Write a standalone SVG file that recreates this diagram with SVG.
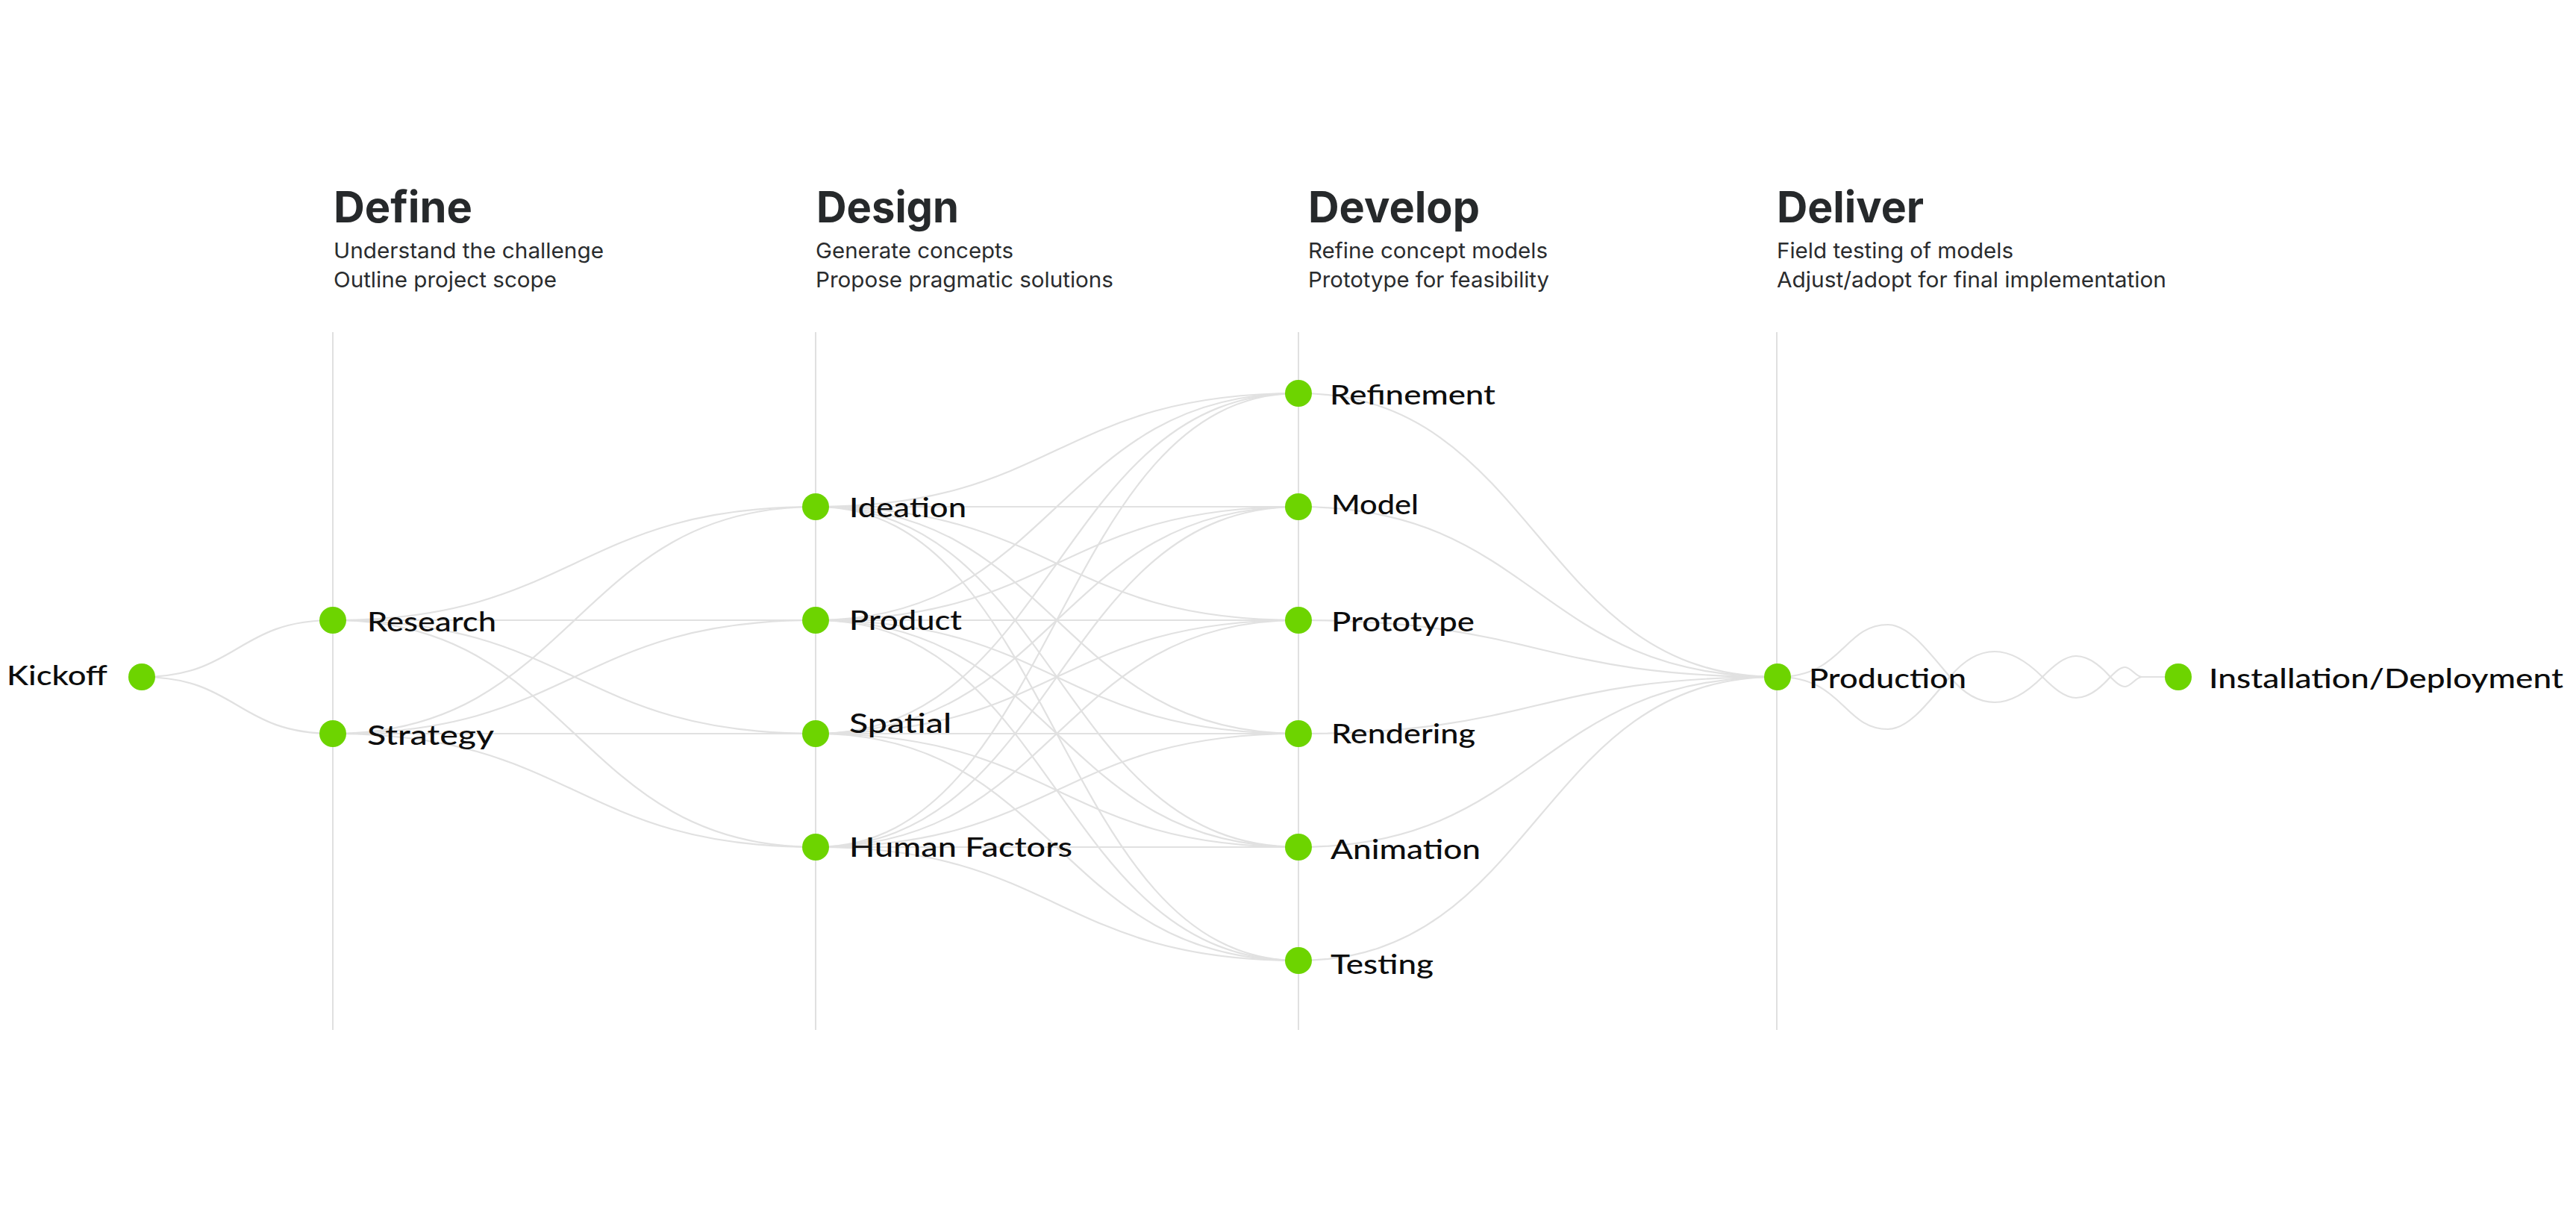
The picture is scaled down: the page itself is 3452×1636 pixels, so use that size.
<svg xmlns="http://www.w3.org/2000/svg" width="3452" height="1636" viewBox="0 0 3452 1636">
<style>
.bg{fill:#ffffff}
.vline{stroke:#e0e0e0;stroke-width:2;fill:none}
.edge{stroke:#e1e1e1;stroke-width:2.2;fill:none}
.dot{fill:#6dd400}
.head{font-family:Inter,"Liberation Sans",sans-serif;font-weight:700;font-size:58px;fill:#26292b}
.sub{font-family:Inter,"Liberation Sans",sans-serif;font-weight:400;font-size:29px;fill:#2a2c2e}
.lbl{font-family:Lato,"Noto Sans","Liberation Sans",sans-serif;font-weight:500;font-size:37px;fill:#0d0d0d}
</style>
<rect class="bg" x="0" y="0" width="3452" height="1636"/>

<g id="col-define">
<line class="vline" x1="446" y1="445" x2="446" y2="1380"/>
<text class="head" x="447" y="298" textLength="186" lengthAdjust="spacingAndGlyphs">Define</text>
<text class="sub" x="447" y="346" textLength="362" lengthAdjust="spacingAndGlyphs">Understand the challenge</text>
<text class="sub" x="447" y="385" textLength="299" lengthAdjust="spacingAndGlyphs">Outline project scope</text>
</g>
<g id="col-design">
<line class="vline" x1="1093" y1="445" x2="1093" y2="1380"/>
<text class="head" x="1094" y="298" textLength="191" lengthAdjust="spacingAndGlyphs">Design</text>
<text class="sub" x="1093" y="346" textLength="265" lengthAdjust="spacingAndGlyphs">Generate concepts</text>
<text class="sub" x="1093" y="385" textLength="399" lengthAdjust="spacingAndGlyphs">Propose pragmatic solutions</text>
</g>
<g id="col-develop">
<line class="vline" x1="1740" y1="445" x2="1740" y2="1380"/>
<text class="head" x="1753" y="298" textLength="230" lengthAdjust="spacingAndGlyphs">Develop</text>
<text class="sub" x="1753" y="346" textLength="321" lengthAdjust="spacingAndGlyphs">Refine concept models</text>
<text class="sub" x="1753" y="385" textLength="323" lengthAdjust="spacingAndGlyphs">Prototype for feasibility</text>
</g>
<g id="col-deliver">
<line class="vline" x1="2381" y1="445" x2="2381" y2="1380"/>
<text class="head" x="2381" y="298" textLength="197" lengthAdjust="spacingAndGlyphs">Deliver</text>
<text class="sub" x="2381" y="346" textLength="317" lengthAdjust="spacingAndGlyphs">Field testing of models</text>
<text class="sub" x="2381" y="385" textLength="522" lengthAdjust="spacingAndGlyphs">Adjust/adopt for final implementation</text>
</g>

<g id="connectors">
<path class="edge" d="M190,907 C318,907 318,831 446,831"/>
<path class="edge" d="M190,907 C318,907 318,983 446,983"/>

<path class="edge" d="M446,831 C770,831 770,679 1093,679"/>
<path class="edge" d="M446,831 C770,831 770,831 1093,831"/>
<path class="edge" d="M446,831 C770,831 770,983 1093,983"/>
<path class="edge" d="M446,831 C770,831 770,1135 1093,1135"/>
<path class="edge" d="M446,983 C770,983 770,679 1093,679"/>
<path class="edge" d="M446,983 C770,983 770,831 1093,831"/>
<path class="edge" d="M446,983 C770,983 770,983 1093,983"/>
<path class="edge" d="M446,983 C770,983 770,1135 1093,1135"/>

<path class="edge" d="M1093,679 C1416,679 1416,527 1740,527"/>
<path class="edge" d="M1093,679 C1416,679 1416,679 1740,679"/>
<path class="edge" d="M1093,679 C1416,679 1416,831 1740,831"/>
<path class="edge" d="M1093,679 C1416,679 1416,983 1740,983"/>
<path class="edge" d="M1093,679 C1416,679 1416,1135 1740,1135"/>
<path class="edge" d="M1093,679 C1416,679 1416,1287 1740,1287"/>

<path class="edge" d="M1093,831 C1416,831 1416,527 1740,527"/>
<path class="edge" d="M1093,831 C1416,831 1416,679 1740,679"/>
<path class="edge" d="M1093,831 C1416,831 1416,831 1740,831"/>
<path class="edge" d="M1093,831 C1416,831 1416,983 1740,983"/>
<path class="edge" d="M1093,831 C1416,831 1416,1135 1740,1135"/>
<path class="edge" d="M1093,831 C1416,831 1416,1287 1740,1287"/>

<path class="edge" d="M1093,983 C1416,983 1416,527 1740,527"/>
<path class="edge" d="M1093,983 C1416,983 1416,679 1740,679"/>
<path class="edge" d="M1093,983 C1416,983 1416,831 1740,831"/>
<path class="edge" d="M1093,983 C1416,983 1416,983 1740,983"/>
<path class="edge" d="M1093,983 C1416,983 1416,1135 1740,1135"/>
<path class="edge" d="M1093,983 C1416,983 1416,1287 1740,1287"/>

<path class="edge" d="M1093,1135 C1416,1135 1416,527 1740,527"/>
<path class="edge" d="M1093,1135 C1416,1135 1416,679 1740,679"/>
<path class="edge" d="M1093,1135 C1416,1135 1416,831 1740,831"/>
<path class="edge" d="M1093,1135 C1416,1135 1416,983 1740,983"/>
<path class="edge" d="M1093,1135 C1416,1135 1416,1135 1740,1135"/>
<path class="edge" d="M1093,1135 C1416,1135 1416,1287 1740,1287"/>

<path class="edge" d="M1740,527 C2060,527 2060,907 2381,907"/>
<path class="edge" d="M1740,679 C2060,679 2060,907 2381,907"/>
<path class="edge" d="M1740,831 C2060,831 2060,907 2381,907"/>
<path class="edge" d="M1740,983 C2060,983 2060,907 2381,907"/>
<path class="edge" d="M1740,1135 C2060,1135 2060,907 2381,907"/>
<path class="edge" d="M1740,1287 C2060,1287 2060,907 2381,907"/>

<path class="edge" d="M2382,907 C2470,907 2470,837 2530,837 C2558,837 2585,874 2613,907 C2633,931 2653,941 2673,941 C2694,941 2716,928 2737,907 C2752,892 2767,879 2782,879 C2797,879 2813,890 2828,907 C2835,914 2841,920 2848,920 C2855,920 2863,907 2870,907 L2919,907"/>
<path class="edge" d="M2382,907 C2470,907 2470,977 2530,977 C2558,977 2585,940 2613,907 C2633,883 2653,873 2673,873 C2694,873 2716,886 2737,907 C2752,922 2767,935 2782,935 C2797,935 2813,924 2828,907 C2835,900 2841,894 2848,894 C2855,894 2863,907 2870,907 L2919,907"/>
</g>

<g id="node-kickoff"><circle class="dot" cx="190" cy="907" r="18"/><text class="lbl" x="9" y="918" textLength="135" lengthAdjust="spacingAndGlyphs">Kickoff</text></g>
<g id="node-research"><circle class="dot" cx="446" cy="831" r="18"/><text class="lbl" x="492" y="846" textLength="173" lengthAdjust="spacingAndGlyphs">Research</text></g>
<g id="node-strategy"><circle class="dot" cx="446" cy="983" r="18"/><text class="lbl" x="492" y="998" textLength="170" lengthAdjust="spacingAndGlyphs">Strategy</text></g>

<g id="node-ideation"><circle class="dot" cx="1093" cy="679" r="18"/><text class="lbl" x="1138" y="693" textLength="157" lengthAdjust="spacingAndGlyphs">Ideation</text></g>
<g id="node-product"><circle class="dot" cx="1093" cy="831" r="18"/><text class="lbl" x="1138" y="844" textLength="151" lengthAdjust="spacingAndGlyphs">Product</text></g>
<g id="node-spatial"><circle class="dot" cx="1093" cy="983" r="18"/><text class="lbl" x="1138" y="982" textLength="137" lengthAdjust="spacingAndGlyphs">Spatial</text></g>
<g id="node-human-factors"><circle class="dot" cx="1093" cy="1135" r="18"/><text class="lbl" x="1138" y="1148" textLength="299" lengthAdjust="spacingAndGlyphs">Human Factors</text></g>

<g id="node-refinement"><circle class="dot" cx="1740" cy="527" r="18"/><text class="lbl" x="1782" y="542" textLength="222" lengthAdjust="spacingAndGlyphs">Refinement</text></g>
<g id="node-model"><circle class="dot" cx="1740" cy="679" r="18"/><text class="lbl" x="1784" y="689" textLength="117" lengthAdjust="spacingAndGlyphs">Model</text></g>
<g id="node-prototype"><circle class="dot" cx="1740" cy="831" r="18"/><text class="lbl" x="1784" y="846" textLength="192" lengthAdjust="spacingAndGlyphs">Prototype</text></g>
<g id="node-rendering"><circle class="dot" cx="1740" cy="983" r="18"/><text class="lbl" x="1784" y="996" textLength="193" lengthAdjust="spacingAndGlyphs">Rendering</text></g>
<g id="node-animation"><circle class="dot" cx="1740" cy="1135" r="18"/><text class="lbl" x="1783" y="1151" textLength="201" lengthAdjust="spacingAndGlyphs">Animation</text></g>
<g id="node-testing"><circle class="dot" cx="1740" cy="1287" r="18"/><text class="lbl" x="1783" y="1305" textLength="138" lengthAdjust="spacingAndGlyphs">Testing</text></g>

<g id="node-production"><circle class="dot" cx="2382" cy="907" r="18"/><text class="lbl" x="2424" y="922" textLength="211" lengthAdjust="spacingAndGlyphs">Production</text></g>
<g id="node-installation"><circle class="dot" cx="2919" cy="907" r="18"/><text class="lbl" x="2960" y="922" textLength="475" lengthAdjust="spacingAndGlyphs">Installation/Deployment</text></g>
</svg>
